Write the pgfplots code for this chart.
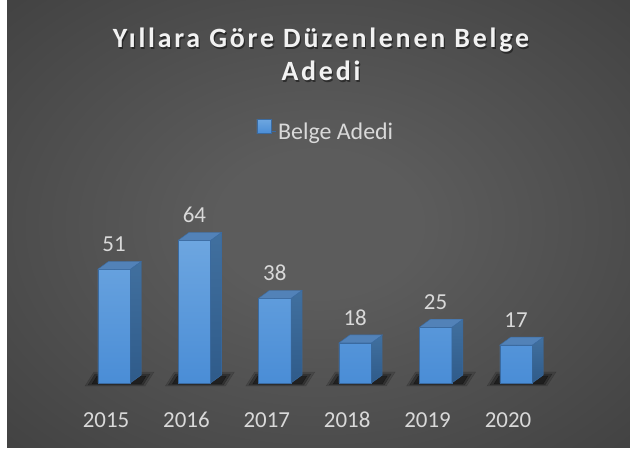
\documentclass[border=0pt]{standalone}
\usepackage{pgfplots}
\pgfplotsset{compat=1.18}
\usepackage{pgfplotstable}
\usepackage{fontspec}
\setmainfont{Carlito}
\newfontfamily\titlefont[LetterSpace=10]{Carlito}
\definecolor{bgin}{HTML}{5C5C5C}
\definecolor{bgmid}{HTML}{404040}
\definecolor{bgout}{HTML}{262626}
\definecolor{frontTop}{HTML}{6DA6E0}
\definecolor{frontBot}{HTML}{4A8DD6}
\definecolor{sideTop}{HTML}{41709F}
\definecolor{sideBot}{HTML}{2F5B8A}
\definecolor{topFace}{HTML}{5282B8}
\definecolor{edge}{HTML}{3A6AA0}
\definecolor{lbl}{HTML}{D9D9D9}
\definecolor{ttl}{HTML}{F2F2F2}
\pgfdeclareradialshading{bgshade}{\pgfpoint{0bp}{0bp}}{color(0bp)=(bgin); color(8bp)=(bgin); color(38bp)=(bgmid); color(60bp)=(bgout); color(75bp)=(bgout)}
\pgfplotstableread{
x val
0 51
1 64
2 38
3 18
4 25
5 17
}\datatable
\pgfplotsset{
  face3d/.style={
    forget plot, only marks, scatter, mark=*, mark size=0pt,
    mark options={draw=none,fill=none},
    visualization depends on={\thisrow{val} \as \val},
    scatter/@post marker code/.code={},
  }
}
\begin{document}
\begin{tikzpicture}
\useasboundingbox (0bp,0bp) rectangle (630bp,456bp);
\fill[white] (0bp,0bp) rectangle (630bp,456bp);
\shade[shading=bgshade] (7bp,8bp) rectangle (630bp,456bp);
\begin{axis}[
  at={(65.76bp,73bp)}, anchor=south west,
  x=80.4bp, y=2.23bp,
  xmin=-0.6, xmax=5.6, ymin=0, ymax=80,
  clip=false, clip marker paths=true,
  axis line style={draw=none},
  major tick length=0pt,
  ytick=\empty,
  xtick={0,...,5},
  xticklabels={2015,2016,2017,2018,2019,2020},
  xticklabel style={font=\fontsize{23}{27}\selectfont, text=lbl, inner sep=0pt, xshift=-8bp, yshift=-29bp},
  /pgf/number format/assume math mode=true,
  legend style={at={(0.522,1.413)}, anchor=center, draw=none, fill=none, text=lbl, font=\fontsize{24}{28}\selectfont},
  legend image code/.code={\fill[top color=frontTop, bottom color=frontBot] (0bp,-2bp) rectangle (14bp,12bp); \path (14bp,0bp) -- (19bp,0bp);},
]
% floor shadows
\addplot[face3d, scatter/@pre marker code/.code={%
  \pgfmathsetlengthmacro\b{-\val*2.23bp}%
  \fill[black, opacity=0.15] (-29bp,\b-3bp) -- (31bp,\b-3bp) -- (40bp,\b+11bp) -- (-20bp,\b+11bp) -- cycle;
  \fill[black, opacity=0.25] (-26bp,\b-2bp) -- (29bp,\b-2bp) -- (36bp,\b+9bp) -- (-19bp,\b+9bp) -- cycle;
  \fill[black, opacity=0.35] (-22bp,\b-1bp) -- (27bp,\b-1bp) -- (32bp,\b+7bp) -- (-17bp,\b+7bp) -- cycle;
}] table[x=x,y=val]{\datatable};
% front faces
\addplot[ybar, bar width=32.5bp, bar shift=0pt, draw=edge, line width=0.4bp,
  top color=frontTop, bottom color=frontBot,
  nodes near coords,
  nodes near coords style={font=\fontsize{23}{27}\selectfont, text=lbl, inner sep=0pt, anchor=south, yshift=17bp}]
  table[x=x,y=val]{\datatable};
\addlegendentry{Belge Adedi}
% side and top faces
\addplot[face3d, scatter/@pre marker code/.code={%
  \pgfmathsetlengthmacro\Hd{-\val*2.23bp}%
  \pgfmathsetlengthmacro\Hu{8bp-\val*2.23bp}%
  \path[draw=edge, line width=0.4bp, top color=sideTop, bottom color=sideBot]
    (16.25bp,0bp) -- (27.25bp,8bp) -- (27.25bp,\Hu) -- (16.25bp,\Hd) -- cycle;
  \path[draw=edge, line width=0.4bp, fill=topFace]
    (-16.25bp,0bp) -- (16.25bp,0bp) -- (27.25bp,8bp) -- (-5.25bp,8bp) -- cycle;
}] table[x=x,y=val]{\datatable};
\end{axis}
\node[anchor=base, text=black, opacity=0.45] at (322.2bp,406.8bp) {\titlefont\bfseries\fontsize{28}{32}\selectfont Yıllara Göre Düzenlenen Belge};
\node[anchor=base, text=ttl] at (321bp,408.3bp) {\titlefont\bfseries\fontsize{28}{32}\selectfont Yıllara Göre Düzenlenen Belge};
\node[anchor=base, text=black, opacity=0.45] at (322.2bp,373.5bp) {\titlefont\bfseries\fontsize{28}{32}\selectfont Adedi};
\node[anchor=base, text=ttl] at (321bp,375bp) {\titlefont\bfseries\fontsize{28}{32}\selectfont Adedi};
\end{tikzpicture}
\end{document}
